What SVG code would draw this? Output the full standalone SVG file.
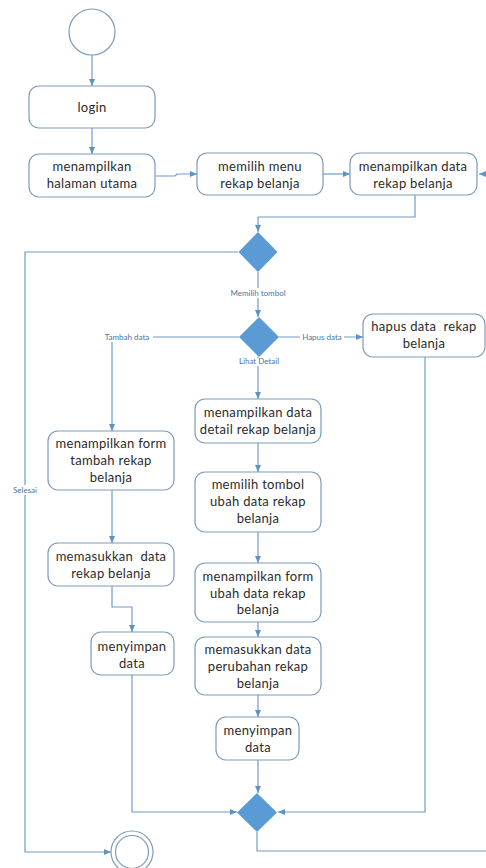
<svg xmlns="http://www.w3.org/2000/svg" width="486" height="868" viewBox="0 0 486 868">
  <defs>
    <marker id="arrow" markerUnits="userSpaceOnUse" markerWidth="8" markerHeight="7" refX="7" refY="3" orient="auto">
      <path d="M0,0 L7,3 L0,6 z" fill="#5f92c4"/>
    </marker>
    <style>
      .act rect { fill: #ffffff; stroke: #7c9cba; stroke-width: 1.2; }
      .act text { font-family: "Lato", "Liberation Sans", sans-serif; font-size: 13px; fill: #2b2b2b; text-anchor: middle; letter-spacing: 0.3px; white-space: pre; }
      .dec { fill: #5b9bd5; }
      .flow path { fill: none; stroke: #6e9cc8; stroke-width: 1.2; marker-end: url(#arrow); }
      .lbl rect { fill: #ffffff; }
      .lbl text { font-family: "Lato", "Liberation Sans", sans-serif; font-size: 8px; fill: #4c74a0; text-anchor: middle; }
    </style>
  </defs>
  <rect width="486" height="868" fill="#ffffff"/>

  <!-- connectors -->
  <g id="connectors" class="flow">
    <path d="M92,55 V86"/>
    <path d="M92,128 V154"/>
    <path d="M155,176 H175 L177,174 H197"/>
    <path d="M323,174 H350"/>
    <path d="M415,195 V217 H258 V232"/>
    <path d="M258,272 V317"/>
    <path d="M239,337 H112 V431"/>
    <path d="M279,337 H363"/>
    <path d="M258,357 V399"/>
    <path d="M258,443 V472"/>
    <path d="M258,532 V563"/>
    <path d="M258,622 V637"/>
    <path d="M258,695 V717"/>
    <path d="M258,760 V793"/>
    <path d="M112,490 V543"/>
    <path d="M112,586 V607 H132 V632"/>
    <path d="M132,675 V812 H237"/>
    <path d="M425,357 V812 H278"/>
    <path d="M238,252 H25 V852 H111"/>
    <path d="M257,832 V851 H496 V174 H479"/>
  </g>

  <!-- connector labels -->
  <g id="labels" class="lbl">
    <rect x="228" y="288" width="60" height="10"/>
    <text x="258" y="296">Memilih tombol</text>
    <rect x="102" y="332" width="51" height="10"/>
    <text x="127" y="340">Tambah data</text>
    <rect x="300" y="332" width="44" height="10"/>
    <text x="322" y="340">Hapus data</text>
    <rect x="238" y="358" width="44" height="8"/>
    <text x="259" y="364">Lihat Detail</text>
    <rect x="12" y="485" width="26" height="10"/>
    <text x="25" y="493">Selesai</text>
  </g>

  <!-- start node -->
  <g id="start">
    <circle cx="92" cy="32" r="23" fill="#ffffff" stroke="#7c9cba" stroke-width="1.2"/>
  </g>

  <g id="login" class="act">
    <rect x="29" y="86" width="126" height="42" rx="10"/>
    <text x="92" y="112">login</text>
  </g>

  <g id="halaman-utama" class="act">
    <rect x="29" y="154" width="126" height="43" rx="10"/>
    <text x="92" y="171">menampilkan</text>
    <text x="92" y="188">halaman utama</text>
  </g>

  <g id="pilih-menu" class="act">
    <rect x="197" y="153" width="126" height="42" rx="10"/>
    <text x="260" y="171">memilih menu</text>
    <text x="260" y="188">rekap belanja</text>
  </g>

  <g id="tampil-rekap" class="act">
    <rect x="350" y="153" width="127" height="42" rx="10"/>
    <text x="413" y="171">menampilkan data</text>
    <text x="413" y="188">rekap belanja</text>
  </g>

  <g id="decision-menu">
    <polygon class="dec" points="258,232 277.5,252 258,272 238.5,252"/>
  </g>

  <g id="decision-tombol">
    <polygon class="dec" points="259,317 279,337 259,357 239,337"/>
  </g>

  <g id="hapus" class="act">
    <rect x="363" y="314" width="122" height="43" rx="10"/>
    <text x="424" y="331">hapus data  rekap</text>
    <text x="424" y="348">belanja</text>
  </g>

  <g id="form-tambah" class="act">
    <rect x="48" y="431" width="126" height="59" rx="10"/>
    <text x="111" y="448">menampilkan form</text>
    <text x="111" y="465">tambah rekap</text>
    <text x="111" y="482">belanja</text>
  </g>

  <g id="input-tambah" class="act">
    <rect x="48" y="543" width="126" height="43" rx="10"/>
    <text x="111" y="561">memasukkan  data</text>
    <text x="111" y="578">rekap belanja</text>
  </g>

  <g id="simpan-tambah" class="act">
    <rect x="91" y="632" width="83" height="43" rx="10"/>
    <text x="132" y="651">menyimpan</text>
    <text x="132" y="668">data</text>
  </g>

  <g id="detail" class="act">
    <rect x="195" y="399" width="126" height="44" rx="10"/>
    <text x="258" y="417">menampilkan data</text>
    <text x="258" y="434">detail rekap belanja</text>
  </g>

  <g id="pilih-ubah" class="act">
    <rect x="195" y="472" width="126" height="60" rx="10"/>
    <text x="258" y="489">memilih tombol</text>
    <text x="258" y="506">ubah data rekap</text>
    <text x="258" y="523">belanja</text>
  </g>

  <g id="form-ubah" class="act">
    <rect x="195" y="563" width="126" height="59" rx="10"/>
    <text x="258" y="581">menampilkan form</text>
    <text x="258" y="598">ubah data rekap</text>
    <text x="258" y="614">belanja</text>
  </g>

  <g id="input-ubah" class="act">
    <rect x="195" y="637" width="126" height="58" rx="10"/>
    <text x="258" y="654">memasukkan data</text>
    <text x="258" y="671">perubahan rekap</text>
    <text x="258" y="688">belanja</text>
  </g>

  <g id="simpan-ubah" class="act">
    <rect x="216" y="717" width="83" height="43" rx="10"/>
    <text x="258" y="735">menyimpan</text>
    <text x="258" y="752">data</text>
  </g>

  <g id="decision-merge">
    <polygon class="dec" points="257,793 277,812.5 257,832 237,812.5"/>
  </g>

  <!-- final node -->
  <g id="end">
    <circle cx="132" cy="852" r="21" fill="#ffffff" stroke="#7c9cba" stroke-width="1.2"/>
    <circle cx="132" cy="852" r="16.5" fill="#ffffff" stroke="#7c9cba" stroke-width="1.2"/>
  </g>
</svg>
